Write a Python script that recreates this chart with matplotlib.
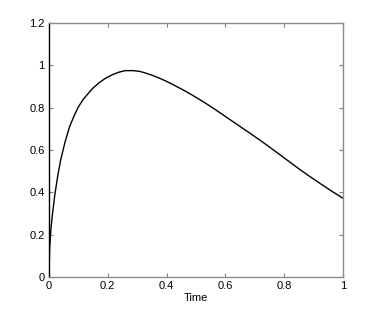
import matplotlib
matplotlib.use('Agg')
import matplotlib.pyplot as plt

# values
time = [0, 0.002, 0.006, 0.012, 0.02, 0.03, 0.04, 0.055, 0.07, 0.085, 0.1,
        0.117, 0.134, 0.15, 0.168, 0.19, 0.213, 0.236, 0.259, 0.287, 0.31,
        0.332, 0.355, 0.378, 0.4, 0.423, 0.445, 0.468, 0.49, 0.514, 0.536,
        0.559, 0.588, 0.616, 0.65, 0.684, 0.718, 0.752, 0.786, 0.82, 0.854,
        0.888, 0.922, 0.96, 1.0]
value = [0, 0.13, 0.22, 0.3, 0.39, 0.48, 0.555, 0.64, 0.71, 0.76, 0.804,
         0.84, 0.868, 0.893, 0.915, 0.937, 0.954, 0.967, 0.975, 0.975, 0.971,
         0.962, 0.951, 0.938, 0.924, 0.908, 0.892, 0.875, 0.857, 0.837, 0.818,
         0.797, 0.77, 0.743, 0.711, 0.679, 0.646, 0.612, 0.577, 0.542, 0.507,
         0.474, 0.442, 0.407, 0.372]

xticks = [0, 0.2, 0.4, 0.6, 0.8, 1]
xlabels = ['0', '0.2', '0.4', '0.6', '0.8', '1']
yticks = [0, 0.2, 0.4, 0.6, 0.8, 1, 1.2]
ylabels = ['0', '0.2', '0.4', '0.6', '0.8', '1', '1.2']

plt.rcParams['font.family'] = ['Liberation Sans', 'DejaVu Sans']

fig = plt.figure(figsize=(3.79, 3.12), dpi=100)
ax = fig.add_axes([49 / 379, 35 / 312, 294 / 379, 254 / 312])

ax.plot(time, value, color='black', linewidth=1.0, solid_joinstyle='round')

ax.set_xlim(0, 1)
ax.set_ylim(0, 1.2)
ax.set_xticks(xticks)
ax.set_xticklabels(xlabels)
ax.set_yticks(yticks)
ax.set_yticklabels(ylabels)
ax.tick_params(direction='in', length=3, width=0.8, color='#808080',
               labelsize=8, top=True, right=True, pad=3)
ax.set_xlabel('Time', fontsize=8, labelpad=1)

for side in ['top', 'right', 'bottom']:
    ax.spines[side].set_color('#8c8c8c')
    ax.spines[side].set_linewidth(1.0)
ax.spines['left'].set_color('black')
ax.spines['left'].set_linewidth(1.0)

fig.savefig('out.png', dpi=100)
